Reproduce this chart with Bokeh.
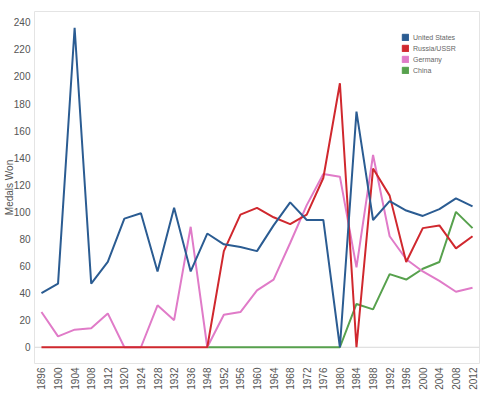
from bokeh.plotting import figure
from bokeh.models import Range1d, FixedTicker, Span, Legend, LegendItem, ColumnDataSource
from bokeh.embed import file_html
from bokeh.resources import INLINE

years = [1896, 1900, 1904, 1908, 1912, 1920, 1924, 1928, 1932, 1936, 1948, 1952, 1956,
         1960, 1964, 1968, 1972, 1976, 1980, 1984, 1988, 1992, 1996, 2000, 2004, 2008, 2012]

united_states = [40, 47, 236, 47, 63, 95, 99, 56, 103, 56, 84, 76, 74,
                 71, 90, 107, 94, 94, 0, 174, 94, 108, 101, 97, 102, 110, 104]
russia_ussr = [0, 0, 0, 0, 0, 0, 0, 0, 0, 0, 0, 71, 98,
               103, 96, 91, 98, 125, 195, 0, 132, 112, 63, 88, 90, 73, 82]
germany = [26, 8, 13, 14, 25, 0, 0, 31, 20, 89, 0, 24, 26,
           42, 50, 77, 105, 128, 126, 59, 142, 82, 65, 56, 49, 41, 44]
china_years = [1948, 1952, 1956, 1960, 1964, 1968, 1972, 1976, 1980, 1984, 1988, 1992,
               1996, 2000, 2004, 2008, 2012]
china = [0, 0, 0, 0, 0, 0, 0, 0, 0, 32, 28, 54, 50, 58, 63, 100, 88]

series_names = ["United States", "Russia/USSR", "Germany", "China"]
colors = ["#2b5c92", "#d0282e", "#e07bc8", "#57a14d"]
y_ticks = list(range(0, 241, 20))

idx = list(range(len(years)))
china_idx = [years.index(y) for y in china_years]

p = figure(width=487, height=395, output_backend="svg", toolbar_location=None,
           x_range=Range1d(-0.42, len(years) - 1 + 0.42), y_range=Range1d(-12, 248),
           min_border_left=32, min_border_right=8, min_border_top=11, min_border_bottom=32)

p.background_fill_color = "white"
p.border_fill_color = "white"
p.outline_line_color = "#e4e4e4"
p.xgrid.visible = False
p.ygrid.visible = False

p.add_layout(Span(location=0, dimension="width", line_color="#d8d8d8", line_width=1,
                  level="underlay"))

data = [(idx, united_states), (idx, russia_ussr), (idx, germany), (china_idx, china)]
order = [3, 2, 1, 0]
for i in order:
    xs, ys = data[i]
    p.line(xs, ys, line_color=colors[i], line_width=2)

nan = float("nan")
items = []
for i, name in enumerate(series_names):
    src = ColumnDataSource(dict(left=[nan], right=[nan], top=[nan], bottom=[nan]))
    r = p.quad(left="left", right="right", top="top", bottom="bottom", source=src,
               fill_color=colors[i], line_color=colors[i])
    items.append(LegendItem(label=name, renderers=[r]))

legend = Legend(items=items, location=(367, 289))
legend.label_text_font = "Liberation Sans"
legend.label_text_font_size = "7px"
legend.label_text_color = "#666666"
legend.glyph_width = 8
legend.glyph_height = 8
legend.spacing = 3
legend.label_standoff = 4
legend.label_height = 8
legend.padding = 4
legend.margin = 0
legend.border_line_color = None
legend.background_fill_alpha = 0
p.add_layout(legend)

p.xaxis.ticker = FixedTicker(ticks=idx)
p.xaxis.major_label_overrides = {i: str(y) for i, y in zip(idx, years)}
p.xaxis.major_label_orientation = 1.5708
p.yaxis.ticker = FixedTicker(ticks=y_ticks)
p.yaxis.axis_label = "Medals Won"

for ax in (p.xaxis, p.yaxis):
    ax.axis_line_color = None
    ax.major_tick_line_color = None
    ax.minor_tick_line_color = None
    ax.major_tick_out = 0
    ax.major_tick_in = 0
    ax.minor_tick_out = 0
    ax.minor_tick_in = 0
    ax.major_label_text_font = "Liberation Sans"
    ax.major_label_text_font_size = "10px"
    ax.major_label_text_color = "#555555"
    ax.major_label_standoff = 4
p.yaxis.axis_label_text_font = "Liberation Sans"
p.yaxis.axis_label_text_font_size = "10px"
p.yaxis.axis_label_text_font_style = "normal"
p.yaxis.axis_label_text_color = "#555555"
p.yaxis.axis_label_standoff = -4

open("out.html", "w").write(file_html(p, INLINE))
